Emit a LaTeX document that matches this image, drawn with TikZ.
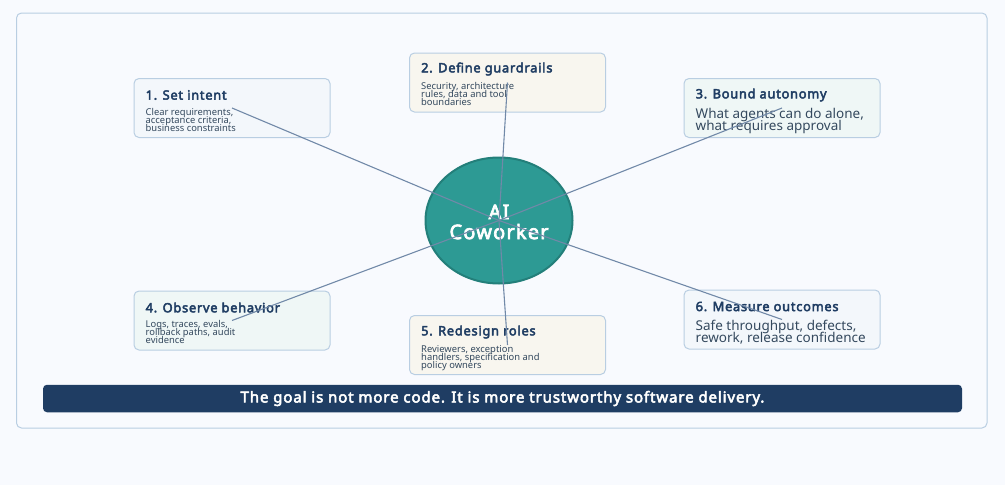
\documentclass[tikz,border=0pt]{standalone}
\usepackage{fontspec}
\setmainfont{Noto Sans}[BoldFont={Noto Sans},BoldFeatures={FakeBold=3.5,LetterSpace=6}]
\usetikzlibrary{shapes.geometric}
\lineskiplimit=-20pt
\definecolor{pagebg}{HTML}{F8FAFE}
\definecolor{framecol}{HTML}{B9CEE2}
\definecolor{navy}{HTML}{1F3D63}
\definecolor{bodycol}{HTML}{34495E}
\definecolor{linkcol}{HTML}{7189A8}
\definecolor{bluefill}{HTML}{F3F7FB}
\definecolor{sandfill}{HTML}{F8F6EF}
\definecolor{mintfill}{HTML}{EFF7F6}
\definecolor{tealfill}{HTML}{2D9A94}
\definecolor{tealline}{HTML}{237F7A}
\tikzset{
  card/.style={draw=framecol, line width=1pt, rounded corners=5pt, minimum width=196pt, minimum height=59pt, inner sep=0pt},
  cardtitle/.style={anchor=west, inner sep=0pt, text=navy, font=\fontsize{12.8}{14}\selectfont\bfseries},
  smallbody/.style={anchor=north west, inner sep=0pt, align=left, text=bodycol, font=\fontsize{9.4}{8}\selectfont},
  largebody/.style={anchor=north west, inner sep=0pt, align=left, text=bodycol, font=\fontsize{13.5}{12}\selectfont},
  link/.style={draw=linkcol, line width=1.1pt}
}
\begin{document}
\begin{tikzpicture}[x=1pt,y=-1pt]
\fill[pagebg] (0,0) rectangle (1005,485);
\useasboundingbox (0,0) rectangle (1005,485);
\draw[framecol, line width=1pt, rounded corners=5pt] (16.5,13) rectangle (987,428);

\node (intent) [card, fill=bluefill] at (232,108) {};
\node (guardrails) [card, fill=sandfill] at (507.5,82.5) {};
\node (autonomy) [card, fill=mintfill] at (782,108) {};
\node (behavior) [card, fill=mintfill] at (232,320.5) {};
\node (roles) [card, fill=sandfill] at (507.5,345) {};
\node (outcomes) [card, fill=bluefill] at (782,319.5) {};

\node (intenthead) [cardtitle] at (145.5,95) {1. Set intent};
\node (intenttext) [smallbody] at (145.5,108) {Clear requirements,\\acceptance criteria,\\business constraints};
\node (guardhead) [cardtitle] at (421,69) {2. Define guardrails};
\node (guardtext) [smallbody] at (421,82) {Security, architecture\\rules, data and tool\\boundaries};
\node (autohead) [cardtitle] at (695.5,95) {3. Bound autonomy};
\node (autotext) [largebody] at (695.5,108.5) {What agents can do alone,\\what requires approval};
\node (behavhead) [cardtitle] at (145.5,307.5) {4. Observe behavior};
\node (behavtext) [smallbody] at (145.5,320.5) {Logs, traces, evals,\\rollback paths, audit\\evidence};
\node (roleshead) [cardtitle] at (421,332) {5. Redesign roles};
\node (rolestext) [smallbody] at (421,345) {Reviewers, exception\\handlers, specification and\\policy owners};
\node (outhead) [cardtitle] at (695.5,306.5) {6. Measure outcomes};
\node (outtext) [largebody] at (695.5,319.5) {Safe throughput, defects,\\rework, release confidence};

\node (coworker) [draw=tealline, fill=tealfill, shape=ellipse, line width=2pt, minimum width=147pt, minimum height=126pt, inner sep=0pt] at (499,220.5) {};
\node (corelabel) [inner sep=0pt, align=center, text=white, font=\fontsize{20}{20}\selectfont\bfseries] at (499,222) {AI\\Coworker};

\draw[link] (coworker.center) -- (intent.center);
\draw[link] (coworker.center) -- (guardrails.center);
\draw[link] (coworker.center) -- (autonomy.center);
\draw[link] (coworker.center) -- (behavior.center);
\draw[link] (coworker.center) -- (roles.center);
\draw[link] (coworker.center) -- (outcomes.center);

\node (goal) [fill=navy, rounded corners=4pt, minimum width=919pt, minimum height=27.5pt, inner sep=0pt, text=white, font=\fontsize{15}{17}\selectfont\bfseries] at (502.5,398.5) {The goal is not more code. It is more trustworthy software delivery.};
\end{tikzpicture}
\end{document}
